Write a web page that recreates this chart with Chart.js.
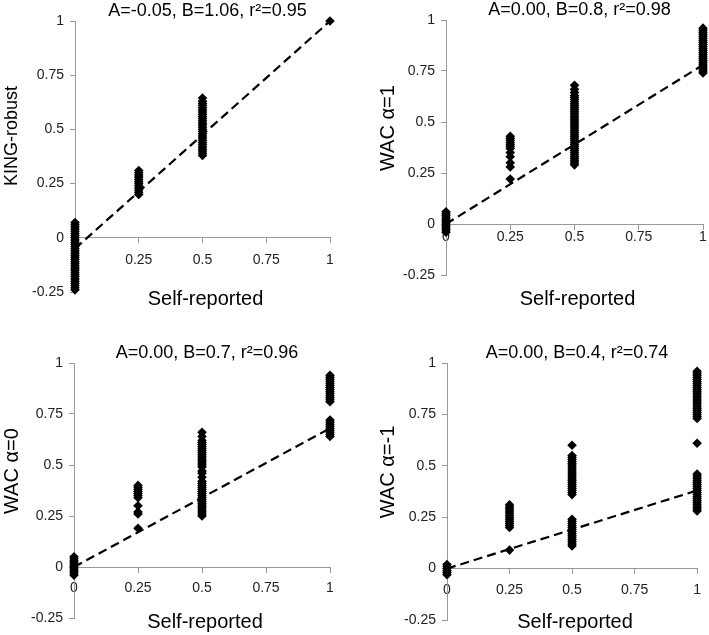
<!DOCTYPE html>
<html>
<head>
<meta charset="utf-8">
<script src="https://cdn.jsdelivr.net/npm/chart.js@4.4.1/dist/chart.umd.min.js"></script>
<style>
  body { margin: 0; background: #fff; }
  #wrap { position: relative; width: 709px; height: 635px; }
  #wrap canvas { position: absolute; }
</style>
</head>
<body>
<div id="wrap">
  <canvas id="c1" width="354" height="310" style="left:0;top:0"></canvas>
  <canvas id="c2" width="354" height="310" style="left:355px;top:0"></canvas>
  <canvas id="c3" width="354" height="310" style="left:0;top:325px"></canvas>
  <canvas id="c4" width="354" height="310" style="left:355px;top:325px"></canvas>
</div>
<script>
// x categories (self-reported relatedness) and axis ticks
const selfReported = [0, 0.25, 0.5, 1];
const xTicks = [0, 0.25, 0.5, 0.75, 1];
const yTicks = [-0.25, 0, 0.25, 0.5, 0.75, 1];

// estimated relatedness values, one list per self-reported column
const kingRobust = [
  [-0.24, -0.23, -0.22, -0.21, -0.20, -0.19, -0.18, -0.17, -0.16, -0.15, -0.14, -0.13, -0.12, -0.11, -0.10, -0.09,
   -0.08, -0.07, -0.06, -0.05, -0.04, -0.03, -0.02, -0.01, 0.00, 0.01, 0.02, 0.03, 0.04, 0.05, 0.06, 0.07],
  [0.20, 0.21, 0.22, 0.23, 0.24, 0.25, 0.26, 0.27, 0.28, 0.29, 0.30, 0.31],
  [0.38, 0.39, 0.40, 0.41, 0.42, 0.43, 0.44, 0.45, 0.46, 0.47, 0.48, 0.49, 0.50, 0.51, 0.52, 0.53, 0.54,
   0.55, 0.56, 0.57, 0.58, 0.59, 0.60, 0.61, 0.62, 0.63, 0.645],
  [1.0]
];
const wacAlpha1 = [
  [-0.04, -0.03, -0.02, -0.01, 0.00, 0.01, 0.02, 0.03, 0.04, 0.05, 0.06],
  [0.22, 0.28, 0.30, 0.33, 0.35, 0.37, 0.38, 0.39, 0.40, 0.41, 0.42, 0.43],
  [0.29, 0.30, 0.31, 0.32, 0.33, 0.34, 0.35, 0.36, 0.37, 0.38, 0.39, 0.40, 0.41, 0.42, 0.43, 0.44, 0.45, 0.46,
   0.47, 0.48, 0.49, 0.50, 0.51, 0.52, 0.53, 0.54, 0.55, 0.56, 0.57, 0.58, 0.59, 0.60, 0.61, 0.62, 0.63, 0.645, 0.66, 0.68],
  [0.74, 0.75, 0.76, 0.77, 0.78, 0.79, 0.80, 0.81, 0.82, 0.83, 0.84, 0.85, 0.86, 0.87, 0.88, 0.89, 0.90, 0.91,
   0.92, 0.93, 0.94, 0.95, 0.96]
];
const wacAlpha0 = [
  [-0.04, -0.03, -0.02, -0.01, 0.00, 0.01, 0.02, 0.03, 0.04, 0.05],
  [0.19, 0.26, 0.27, 0.30, 0.34, 0.35, 0.36, 0.37, 0.38, 0.39, 0.40],
  [0.25, 0.26, 0.27, 0.28, 0.29, 0.30, 0.31, 0.32, 0.33, 0.34, 0.35, 0.36, 0.37, 0.38, 0.39, 0.40, 0.41, 0.42,
   0.44, 0.46, 0.47, 0.49, 0.50, 0.51, 0.52, 0.53, 0.54, 0.55, 0.56, 0.57, 0.58, 0.59, 0.60, 0.61, 0.62, 0.64, 0.66],
  [0.64, 0.65, 0.66, 0.67, 0.68, 0.69, 0.70, 0.71, 0.72, 0.81, 0.82, 0.83, 0.84, 0.85, 0.86, 0.87, 0.88, 0.89,
   0.90, 0.91, 0.92, 0.93, 0.94]
];
const wacAlphaMinus1 = [
  [-0.03, -0.02, -0.01, 0.00, 0.01, 0.02],
  [0.09, 0.20, 0.21, 0.22, 0.23, 0.24, 0.25, 0.26, 0.27, 0.28, 0.29, 0.30, 0.31],
  [0.11, 0.12, 0.13, 0.14, 0.15, 0.16, 0.17, 0.18, 0.19, 0.20, 0.21, 0.22, 0.23, 0.24,
   0.36, 0.37, 0.38, 0.39, 0.40, 0.41, 0.42, 0.43, 0.44, 0.45, 0.46, 0.47, 0.48, 0.49, 0.50, 0.51, 0.52, 0.53, 0.54, 0.55, 0.60],
  [0.28, 0.29, 0.30, 0.31, 0.32, 0.33, 0.34, 0.35, 0.36, 0.37, 0.38, 0.39, 0.40, 0.41, 0.42, 0.43, 0.44, 0.45, 0.46,
   0.61,
   0.73, 0.74, 0.75, 0.76, 0.77, 0.78, 0.79, 0.80, 0.81, 0.82, 0.83, 0.84, 0.85, 0.86, 0.87, 0.88, 0.89, 0.90,
   0.91, 0.92, 0.93, 0.94, 0.95, 0.96]
];

// regression lines, y at x = 0 and x = 1
const fitX = [0, 1];
const kingFit = [-0.05, 1.0];
const wac1Fit = [0, 0.78];
const wac0Fit = [0, 0.68];
const wacM1Fit = [0, 0.38];

const titles = ['A=-0.05, B=1.06, r\u00b2=0.95', 'A=0.00, B=0.8, r\u00b2=0.98', 'A=0.00, B=0.7, r\u00b2=0.96', 'A=0.00, B=0.4, r\u00b2=0.74'];
const yLabels = ['KING-robust', 'WAC \u03b1=1', 'WAC \u03b1=0', 'WAC \u03b1=-1'];
const xLabel = 'Self-reported';

const FONT = '"Liberation Sans", Arial, sans-serif';

// draws panel title and axis titles
const panelText = {
  id: 'panelText',
  afterDraw(chart, args, o) {
    const { ctx, chartArea: a, scales } = chart;
    const cx = (a.left + a.right) / 2;
    ctx.save();
    ctx.fillStyle = '#000';
    ctx.textAlign = 'center';
    ctx.textBaseline = 'middle';
    ctx.font = '18px ' + FONT;
    ctx.fillText(o.title, cx + 5, a.top - 10);
    ctx.font = '20px ' + FONT;
    ctx.fillText(xLabel, cx + 3, o.xLabelY);
    ctx.translate(o.yLabelX, scales.y.getPixelForValue(0.47));
    ctx.rotate(-Math.PI / 2);
    ctx.font = o.yFont + 'px ' + FONT;
    ctx.fillText(o.yLabel, 0, 0);
    ctx.restore();
  }
};

const panels = [
  { id: 'c1', cols: kingRobust, fit: kingFit, pad: { left: 15, top: 21, right: 24, bottom: 18 }, xTickPad: 9, yLabelX: 12, yFont: 18, xLabelY: 299 },
  { id: 'c2', cols: wacAlpha1, fit: wac1Fit, pad: { left: 31, top: 20, right: 6, bottom: 35 }, xTickPad: 0, yLabelX: 33, yFont: 20, xLabelY: 299 },
  { id: 'c3', cols: wacAlpha0, fit: wac0Fit, pad: { left: 14, top: 38, right: 24, bottom: 17 }, xTickPad: 8, yLabelX: 12, yFont: 20, xLabelY: 297 },
  { id: 'c4', cols: wacAlphaMinus1, fit: wacM1Fit, pad: { left: 32, top: 38, right: 6, bottom: 15 }, xTickPad: 8, yLabelX: 33, yFont: 20, xLabelY: 297 }
];

panels.forEach((p, i) => {
  const points = [];
  p.cols.forEach((ys, k) => ys.forEach(y => points.push({ x: selfReported[k], y })));
  const line = fitX.map((x, k) => ({ x, y: p.fit[k] }));

  new Chart(document.getElementById(p.id), {
    type: 'scatter',
    data: {
      datasets: [
        {
          data: points,
          pointStyle: 'rectRot',
          pointRadius: 4.8,
          backgroundColor: '#000',
          borderColor: '#000',
          borderWidth: 0,
          clip: false
        },
        {
          type: 'line',
          data: line,
          borderColor: '#000',
          borderWidth: 2.2,
          borderDash: [9, 5],
          pointRadius: 0,
          fill: false,
          clip: false
        }
      ]
    },
    options: {
      responsive: false,
      animation: false,
      layout: { padding: p.pad },
      scales: {
        x: {
          type: 'linear',
          min: 0, max: 1,
          position: { y: 0 },
          afterBuildTicks: s => { s.ticks = xTicks.map(v => ({ value: v })); },
          ticks: { callback: v => String(v), color: '#222', font: { size: 14, family: FONT }, padding: p.xTickPad, maxRotation: 0 },
          grid: { drawOnChartArea: false, drawTicks: true, tickLength: 5, color: '#999' },
          border: { color: '#999', width: 1 }
        },
        y: {
          min: -0.25, max: 1,
          afterBuildTicks: s => { s.ticks = yTicks.map(v => ({ value: v })); },
          afterFit: s => { s.width = 60; },
          ticks: { callback: v => String(v), color: '#222', font: { size: 14, family: FONT }, padding: 6 },
          grid: { drawOnChartArea: false, drawTicks: true, tickLength: 5, color: '#999' },
          border: { color: '#999', width: 1 }
        }
      },
      plugins: {
        legend: { display: false },
        tooltip: { enabled: false },
        panelText: { title: titles[i], yLabel: yLabels[i], yLabelX: p.yLabelX, yFont: p.yFont, xLabelY: p.xLabelY }
      }
    },
    plugins: [panelText]
  });
});
</script>
</body>
</html>
